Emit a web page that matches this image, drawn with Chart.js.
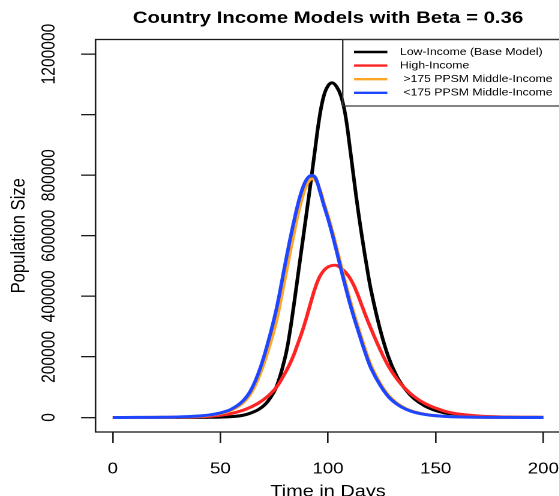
<!DOCTYPE html>
<html>
<head>
<meta charset="utf-8">
<title>Country Income Models with Beta = 0.36</title>
<script src="https://cdn.jsdelivr.net/npm/chart.js@4.4.1/dist/chart.umd.min.js"></script>
<style>
  html, body { margin: 0; padding: 0; overflow: hidden; background: #fff; width: 559px; height: 496px; }
  /* the plot is drawn narrow and widened horizontally */
  #wrap { position: absolute; left: 0; top: 0; width: 469px; height: 510px; transform: scaleX(1.2); transform-origin: 0 0; }
  canvas { display: block; }
</style>
</head>
<body>
<div id="wrap"><canvas id="c" width="469" height="510"></canvas></div>
<script>
// Simulated epidemic curves (population infected per day), beta = 0.36
const days = [0, 10, 20, 30, 40, 45, 50, 55, 60, 64, 68, 72, 76, 80, 82, 84, 86, 88, 90, 92,
  94, 96, 98, 100, 102, 104, 106, 108, 110, 112, 114, 116, 118, 120, 124, 128, 132, 136, 140,
  145, 150, 155, 160, 170, 180, 190, 200];

const lowIncome = [0, 0, 9, 45, 225, 550, 1200, 2600, 6400, 14400, 27500, 53100, 100900, 196600,
  270000, 365000, 468000, 571000, 674000, 778000, 886500, 990000, 1061000, 1095000, 1105000,
  1092000, 1062000, 1001000, 900000, 788500, 682000, 586500, 498500, 419000, 296000, 200750,
  135500, 92000, 62000, 38000, 23000, 13800, 8200, 3000, 1100, 380, 130];

const highIncome = [0, 18, 110, 550, 2300, 4100, 7400, 13000, 22600, 34000, 49000, 70000, 99600,
  146000, 173000, 205000, 244000, 284000, 330000, 380000, 427000, 463000, 485000, 497000, 502000,
  502000, 493000, 480000, 462000, 436000, 402000, 364000, 327000, 292000, 227000, 170000, 127000,
  94000, 69000, 46000, 31000, 19000, 12000, 5000, 2000, 850, 320];

const midAbove175 = [0, 80, 330, 1250, 4100, 7300, 13200, 24000, 45500, 78000, 136000, 218000,
  319000, 460000, 533000, 603000, 671000, 726000, 768000, 787000, 784000, 757000, 710000, 664000,
  614000, 559000, 502000, 446000, 392000, 343000, 297000, 252000, 209000, 171000, 115000, 74000,
  47000, 29600, 18700, 10600, 5900, 3550, 2150, 700, 240, 80, 25];

const midBelow175 = [0, 95, 380, 1420, 4700, 8400, 15000, 27200, 51400, 88000, 152700, 245000,
  357700, 503400, 575500, 642300, 704000, 753000, 785500, 798900, 793000, 752000, 702000, 656000,
  604000, 548000, 490000, 434000, 380000, 331000, 286000, 241000, 199000, 162000, 109000, 69000,
  44000, 27600, 17500, 9900, 5500, 3300, 2000, 650, 220, 75, 22];

const seriesNames = ['Low-Income (Base Model)', 'High-Income', ' >175 PPSM Middle-Income', ' <175 PPSM Middle-Income'];
const seriesColors = ['#000000', '#ff2424', '#ffa526', '#1e46ff'];

const xTicks = [0, 50, 100, 150, 200];
const xTickLabels = ['0', '50', '100', '150', '200'];
const yTicks = [0, 200000, 400000, 600000, 800000, 1000000, 1200000];
const yTickLabels = ['0', '200000', '400000', '600000', '800000', '', '1200000'];

const FONT = "'Liberation Sans', Arial, Helvetica, sans-serif";
Chart.defaults.font.family = FONT;
Chart.defaults.color = '#000';

const allSeries = [lowIncome, highIncome, midAbove175, midBelow175];
const datasets = allSeries.map((vals, i) => ({
  label: seriesNames[i],
  data: days.map((d, k) => ({ x: d, y: vals[k] })),
  borderColor: seriesColors[i],
  backgroundColor: seriesColors[i],
  borderWidth: 3,
  pointRadius: 0,
  fill: false,
  tension: 0.4,
  order: 3 - i
}));

// box around the plotting region
const plotFrame = {
  id: 'plotFrame',
  afterDatasetsDraw(chart) {
    const { ctx, chartArea: a } = chart;
    ctx.save();
    ctx.strokeStyle = '#1a1a1a';
    ctx.lineWidth = 1.3;
    ctx.strokeRect(a.left, a.top, a.right - a.left, a.bottom - a.top);
    ctx.restore();
  }
};

// boxed legend in the upper right corner of the plot
const cornerLegend = {
  id: 'cornerLegend',
  afterDraw(chart) {
    const { ctx, chartArea: a } = chart;
    const left = 285.6, top = a.top, h = 66.5;
    ctx.save();
    ctx.strokeStyle = '#333';
    ctx.lineWidth = 1.2;
    ctx.strokeRect(left, top, 220, h);
    ctx.font = '10.2px ' + FONT;
    ctx.textBaseline = 'middle';
    ctx.textAlign = 'left';
    chart.data.datasets.forEach((ds, i) => {
      const y = top + 12.5 + i * 13.6;
      ctx.strokeStyle = ds.borderColor;
      ctx.lineWidth = 2.4;
      ctx.beginPath();
      ctx.moveTo(295, y);
      ctx.lineTo(322.8, y);
      ctx.stroke();
      ctx.fillStyle = '#000';
      ctx.fillText(ds.label, 333.3, y);
    });
    ctx.restore();
  }
};

new Chart(document.getElementById('c'), {
  type: 'line',
  data: { datasets },
  plugins: [plotFrame, cornerLegend],
  options: {
    responsive: false,
    animation: false,
    devicePixelRatio: 2,
    layout: { padding: { left: 0, right: 1.9, top: 0, bottom: 0 } },
    plugins: {
      legend: { display: false },
      tooltip: { enabled: false },
      title: {
        display: true,
        fullSize: false,
        text: 'Country Income Models with Beta = 0.36',
        color: '#000',
        font: { size: 17, weight: 'bold', family: FONT },
        padding: { top: 8, bottom: 11.1 }
      }
    },
    scales: {
      x: {
        type: 'linear',
        min: -8,
        max: 208,
        afterBuildTicks: s => { s.ticks = xTicks.map(v => ({ value: v })); },
        afterFit: s => { s.height = 78; s.paddingLeft = 0; s.paddingRight = 0; },
        ticks: {
          callback: (v, i) => xTickLabels[i],
          autoSkip: false, maxRotation: 0, minRotation: 0,
          padding: 17, color: '#000',
          font: { size: 15.6, family: FONT }
        },
        grid: { drawOnChartArea: false, drawTicks: true, tickLength: 11, color: '#1a1a1a', lineWidth: 1.3 },
        border: { display: false },
        title: {
          display: true, text: 'Time in Days', color: '#000',
          font: { size: 16.6, family: FONT },
          padding: { top: 0, bottom: 8 }
        }
      },
      y: {
        type: 'linear',
        min: -48000,
        max: 1248000,
        afterBuildTicks: s => { s.ticks = yTicks.map(v => ({ value: v })); },
        afterFit: s => { s.width = 79.6; s.paddingTop = 0; s.paddingBottom = 0; },
        ticks: {
          callback: (v, i) => yTickLabels[i],
          autoSkip: false, minRotation: 90, maxRotation: 90,
          crossAlign: 'center', padding: -4, color: '#000',
          font: { size: 15.6, family: FONT }
        },
        grid: { drawOnChartArea: false, drawTicks: true, tickLength: 12, color: '#1a1a1a', lineWidth: 1.3 },
        border: { display: false },
        title: {
          display: true, text: 'Population Size', color: '#000',
          font: { size: 16.6, family: FONT },
          padding: { top: 6, bottom: 0 }
        }
      }
    }
  }
});
</script>
</body>
</html>
